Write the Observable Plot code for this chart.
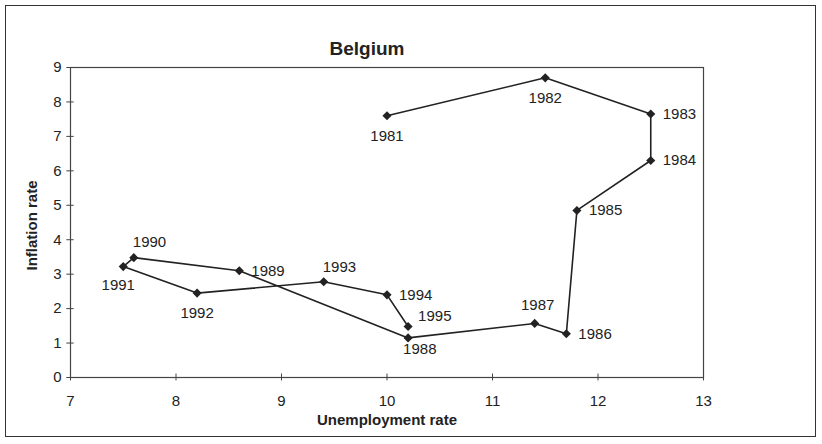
<!DOCTYPE html>
<html>
<head>
<meta charset="utf-8">
<script src="https://cdn.jsdelivr.net/npm/d3@7"></script>
<script src="https://cdn.jsdelivr.net/npm/@observablehq/plot@0.6"></script>
<style>
  html, body { margin: 0; padding: 0; background: #fff; }
  #wrap { position: relative; width: 822px; height: 444px; }
  #box { position: absolute; left: 5px; top: 5px; width: 811px; height: 432px; border: 1.5px solid #333; box-sizing: border-box; pointer-events: none; }
</style>
</head>
<body>
<div id="wrap"><div id="box"></div></div>
<script>
const years = [1981, 1982, 1983, 1984, 1985, 1986, 1987, 1988, 1989, 1990, 1991, 1992, 1993, 1994, 1995];
const unemployment = [10.0, 11.5, 12.5, 12.5, 11.8, 11.7, 11.4, 10.2, 8.6, 7.6, 7.5, 8.2, 9.4, 10.0, 10.2];
const inflation = [7.6, 8.7, 7.65, 6.3, 4.85, 1.27, 1.57, 1.15, 3.1, 3.48, 3.22, 2.45, 2.78, 2.4, 1.48];
const xTicks = [7, 8, 9, 10, 11, 12, 13];
const yTicks = [0, 1, 2, 3, 4, 5, 6, 7, 8, 9];
const title = "Belgium";
const xLabel = "Unemployment rate";
const yLabel = "Inflation rate";

const data = years.map((year, i) => ({year, u: unemployment[i], inf: inflation[i]}));

const below = new Set([1981, 1982, 1992]);
const belowLeft = new Set([1991]);
const right = new Set([1983, 1984, 1985, 1986, 1989, 1994]);
const above = new Set([1987]);
const aboveRight = new Set([1990, 1993]);
const belowRight = new Set([1988]);
const rightUp = new Set([1995]);

const ink = "#222";
const font = "'Liberation Sans', Arial, sans-serif";
const pick = (s) => data.filter(d => s.has(d.year));
const lbl = (s, opts) => Plot.text(pick(s), {x: "u", y: "inf", text: d => String(d.year), fill: ink, fontSize: 15, ...opts});

const chart = Plot.plot({
  width: 822,
  height: 444,
  marginLeft: 70,
  marginRight: 119,
  marginTop: 67,
  marginBottom: 67,
  style: {fontFamily: font, background: "transparent", overflow: "visible"},
  x: {type: "linear", domain: [7, 13]},
  y: {type: "linear", domain: [0, 9]},
  marks: [
    Plot.frame({stroke: "#444", strokeWidth: 1.2}),
    Plot.axisX({ticks: xTicks, tickSize: 0, tickPadding: 18, fontSize: 15, fill: ink, label: null, tickFormat: d => String(d)}),
    Plot.axisY({ticks: yTicks, tickSize: 0, tickPadding: 9, fontSize: 15, fill: ink, label: null, tickFormat: d => String(d)}),
    Plot.ruleX(xTicks, {x: d => d, y1: -0.1, y2: 0.1, stroke: "#444", strokeWidth: 1}),
    Plot.ruleY(yTicks, {y: d => d, x1: 6.965, x2: 7.035, stroke: "#444", strokeWidth: 1}),
    Plot.line(data, {x: "u", y: "inf", stroke: ink, strokeWidth: 1.6}),
    Plot.dot(data, {x: "u", y: "inf", symbol: "diamond2", r: 4.1, fill: ink, stroke: "none"}),
    lbl(below, {dy: 20}),
    lbl(belowLeft, {dx: -5, dy: 19}),
    lbl(right, {textAnchor: "start", dx: 12, dy: 0}),
    lbl(above, {dx: 3, dy: -18}),
    lbl(aboveRight, {textAnchor: "start", dx: -1, dy: -15}),
    lbl(belowRight, {textAnchor: "start", dx: -5, dy: 11}),
    lbl(rightUp, {textAnchor: "start", dx: 10, dy: -10}),
    Plot.text([title], {frameAnchor: "top", dx: -20, dy: -26, fontSize: 19, fontWeight: "bold", fill: ink}),
    Plot.text([xLabel], {frameAnchor: "bottom", dy: 47, fontSize: 15, fontWeight: "bold", fill: ink, style: "letter-spacing:0.5px"}),
    Plot.text([yLabel], {frameAnchor: "left", textAnchor: "middle", dx: -38, dy: 3, rotate: -90, fontSize: 15, fontWeight: "bold", fill: ink})
  ]
});

chart.style.position = "absolute";
chart.style.left = "0"; chart.style.top = "0";
document.getElementById("wrap").appendChild(chart);
</script>
</body>
</html>
